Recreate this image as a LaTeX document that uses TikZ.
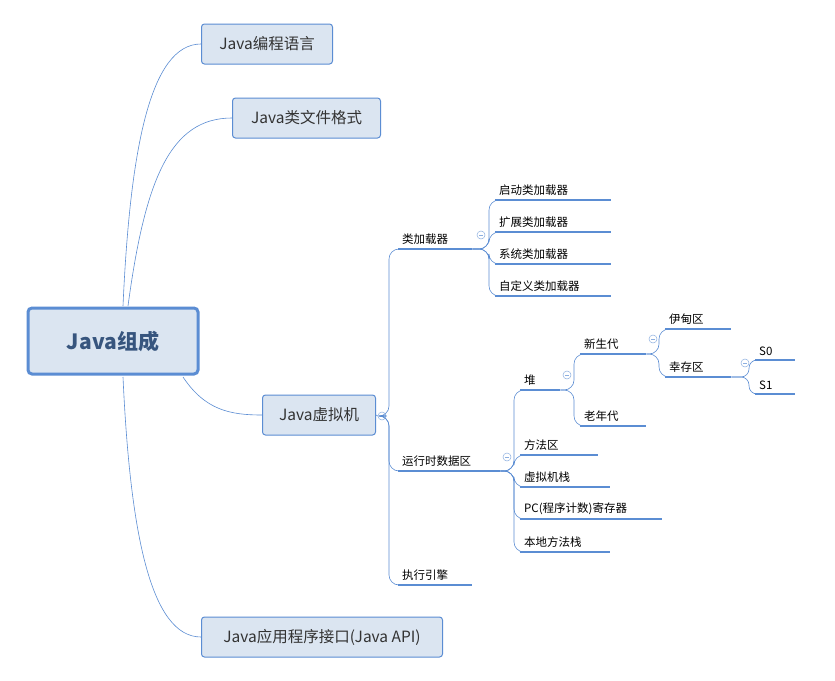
\documentclass[tikz,border=0pt]{standalone}
\usepackage{fontspec}
\setmainfont{Noto Sans CJK SC}
\begin{document}
\begin{tikzpicture}[x=1pt,y=-1pt,
  root/.style={draw=rootblue,line width=3pt,rounded corners=4pt,fill=boxfill,minimum width=170pt,minimum height=66pt,font=\fontsize{21}{25}\selectfont\bfseries,text=rootblue!60!black},
  main node/.style={draw=rootblue,line width=1pt,rounded corners=3pt,fill=boxfill,minimum height=40pt,anchor=west,font=\fontsize{15.5}{18}\selectfont,text=black!80,inner xsep=6pt},
  leaf/.style={anchor=south west,text width=#1,inner xsep=4pt,inner ysep=4pt,font=\fontsize{11.5}{13}\selectfont},
  link/.style={draw=rootblue,line width=0.6pt},
  fold/.style={circle,draw=rootblue!70,line width=0.5pt,minimum size=8pt,inner sep=0pt,path picture={\draw[rootblue!70,line width=0.5pt] ([xshift=-2pt]path picture bounding box.center) -- ([xshift=2pt]path picture bounding box.center);}}]
\definecolor{rootblue}{HTML}{5B8DD3}
\definecolor{boxfill}{HTML}{DBE5F1}
\useasboundingbox[fill=white] (0,0) rectangle (835,680);
% top level
\node[root] (java) at (113,341) {Java组成};
\node[main node,minimum width=131pt] (lang) at (201,44) {Java编程语言};
\node[main node,minimum width=148pt] (cls) at (232,118) {Java类文件格式};
\node[main node,minimum width=113pt] (jvm) at (262,415) {Java虚拟机};
\node[main node,minimum width=241pt] (api) at (201,637) {Java应用程序接口(Java API)};
\draw[link] (123,306) .. controls (130,150) and (150,44) .. (lang.west);
\draw[link] (128,306) .. controls (145,180) and (170,118) .. (cls.west);
\draw[link] (183,377) .. controls (205,410) and (230,415) .. (jvm.west);
\draw[link] (123,377) .. controls (130,530) and (150,637) .. (api.west);
% level 2
\node[leaf=66pt] (loader) at (398,249) {类加载器};
\node[leaf=94pt] (runtime) at (398,471) {运行时数据区};
\node[leaf=66pt] (engine) at (398,585) {执行引擎};
% level 3
\node[leaf=108pt] (l1) at (495,200) {启动类加载器};
\node[leaf=108pt] (l2) at (495,232) {扩展类加载器};
\node[leaf=108pt] (l3) at (495,264) {系统类加载器};
\node[leaf=108pt] (l4) at (495,296) {自定义类加载器};
\node[leaf=32pt] (heap) at (520,390) {堆};
\node[leaf=70pt] (method) at (520,455) {方法区};
\node[leaf=82pt] (stack) at (520,487) {虚拟机栈};
\node[leaf=134pt] (pc) at (520,519) {PC(程序计数)寄存器};
\node[leaf=82pt] (native) at (520,552) {本地方法栈};
\node[leaf=58pt] (young) at (580,354) {新生代};
\node[leaf=58pt] (old) at (580,426) {老年代};
\node[leaf=58pt] (eden) at (665,329) {伊甸区};
\node[leaf=58pt] (surv) at (665,377) {幸存区};
\node[leaf=32pt] (s0) at (755,360) {S0};
\node[leaf=32pt] (s1) at (755,394) {S1};
\foreach \n in {loader,runtime,engine,l1,l2,l3,l4,heap,method,stack,pc,native,young,old,eden,surv,s0,s1}
  \draw[rootblue,line width=2pt] (\n.south west) -- (\n.south east);
% folds
\node[fold] (f0) at (382,416) {};
\node[fold] (f1) at (481,235) {};
\node[fold] (f2) at (507,457) {};
\node[fold] (f3) at (567,375) {};
\node[fold] (f4) at (653,339) {};
\node[fold] (f5) at (745,363) {};
% branches
\draw[link] (jvm.east) -- (f0.west);
\foreach \c in {loader,runtime,engine}
  \draw[link,rounded corners=10pt] (f0.east) -- (389,416) |- (\c.south west);
\foreach \c in {l1,l2,l3,l4}
  \draw[link,rounded corners=10pt] (loader.south east) -- (489,249) |- (\c.south west);
\foreach \c in {heap,method,stack,pc,native}
  \draw[link,rounded corners=10pt] (runtime.south east) -- (514,471) |- (\c.south west);
\foreach \c in {young,old}
  \draw[link,rounded corners=10pt] (heap.south east) -- (574,390) |- (\c.south west);
\foreach \c in {eden,surv}
  \draw[link,rounded corners=10pt] (young.south east) -- (659,354) |- (\c.south west);
\foreach \c in {s0,s1}
  \draw[link,rounded corners=8pt] (surv.south east) -- (749,377) |- (\c.south west);
\end{tikzpicture}
\end{document}
